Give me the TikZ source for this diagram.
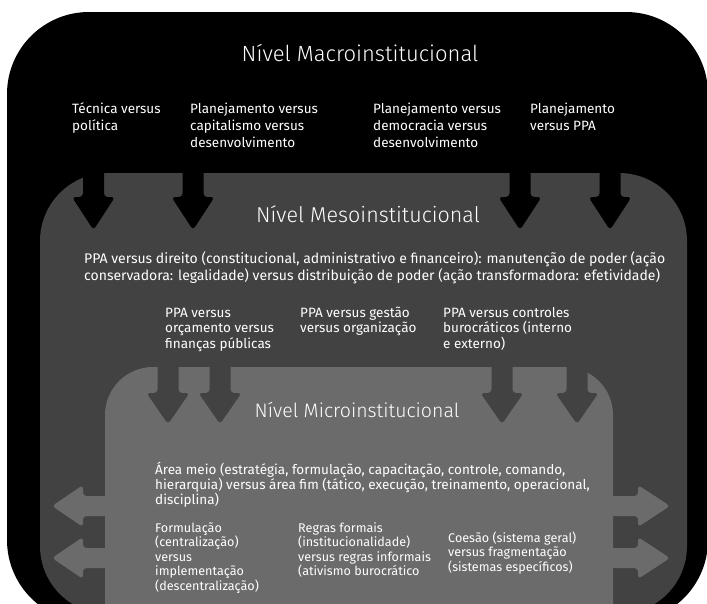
\documentclass[tikz,border=0pt]{standalone}
\usepackage{fontspec}
\setmainfont{Fira Sans}
\IfFontExistsTF{Fira Sans Light}{\newfontfamily\titlefont{Fira Sans Light}}{\newfontfamily\titlefont{Fira Sans}}
\definecolor{meso}{RGB}{66,66,66}
\definecolor{micro}{RGB}{107,107,107}
\newcommand\dnarrow[5]{\fill[#5, rounded corners=3.5pt] (#1-10.5,#2) -- (#1-10.5,#3) -- (#1-21.5,#3) -- (#1,#4) -- (#1+21.5,#3) -- (#1+10.5,#3) -- (#1+10.5,#2) -- cycle;}
\newcommand\sdarrow[5]{\fill[#5, rounded corners=3.5pt] (#2,#1-10) -- (#3,#1-10) -- (#3,#1-21) -- (#4,#1) -- (#3,#1+21) -- (#3,#1+10) -- (#2,#1+10) -- cycle;}
\begin{document}
\begin{tikzpicture}[x=1pt,y=-1pt,
  toplbl/.style={text=white, font=\fontsize{13.5}{17}\selectfont, align=left, anchor=base west, inner sep=0pt},
  meslbl/.style={text=white, font=\fontsize{14}{17}\selectfont, align=left, anchor=base west, inner sep=0pt},
  sublbl/.style={text=white, font=\fontsize{13.5}{15.5}\selectfont, align=left, anchor=base west, inner sep=0pt},
  miclbl/.style={text=white, font=\fontsize{13.5}{15}\selectfont, align=left, anchor=base west, inner sep=0pt},
  botlbl/.style={text=white, font=\fontsize{12.6}{14.5}\selectfont, align=left, anchor=base west, inner sep=0pt},
  ttl/.style={text=white, font=\titlefont\fontsize{22}{26}\selectfont, anchor=base, inner sep=0pt}]
\useasboundingbox (0,0) rectangle (707,603);
\clip (0,0) rectangle (707,603);
\fill[white] (0,0) rectangle (707,603);
% macro level
\fill[black, rounded corners=82pt] (7,12) rectangle (708,622);
% meso level
\fill[meso, rounded corners=68pt] (40,173) rectangle (687,614);
\dnarrow{93.5}{150}{197}{230}{black}
\dnarrow{193}{150}{197}{230}{black}
\dnarrow{520}{150}{197}{230}{black}
\dnarrow{610}{150}{197}{230}{black}
% micro level
\fill[micro, rounded corners=48pt] (105,367) rectangle (613,660);
\dnarrow{168}{345}{393}{424}{meso}
\dnarrow{220}{345}{393}{424}{meso}
\dnarrow{502}{345}{393}{424}{meso}
\dnarrow{577}{345}{393}{424}{meso}
\sdarrow{506}{120}{83}{52}{micro}
\sdarrow{558}{120}{83}{52}{micro}
\sdarrow{506}{600}{638}{670}{micro}
\sdarrow{558}{600}{638}{670}{micro}
% texts (anchor = baseline of the last line)
\node[ttl] (macro) at (360,61) {Nível Macroinstitucional};
\node[toplbl] (t1) at (72,130) {Técnica versus\\política};
\node[toplbl] (t2) at (190,147) {Planejamento versus\\capitalismo versus\\desenvolvimento};
\node[toplbl] (t3) at (373,147) {Planejamento versus\\democracia versus\\desenvolvimento};
\node[toplbl] (t4) at (530,130) {Planejamento\\versus PPA};
\node[ttl, font=\titlefont\fontsize{21.5}{26}\selectfont] (meso) at (368,222) {Nível Mesoinstitucional};
\node[meslbl] (m0) at (84,280) {PPA versus direito (constitucional, administrativo e financeiro): manutenção de poder (ação\\conservadora: legalidade) versus distribuição de poder (ação transformadora: efetividade)};
\node[sublbl] (m1) at (165,348) {PPA versus\\orçamento versus\\finanças públicas};
\node[sublbl] (m2) at (300,332.5) {PPA versus gestão\\versus organização};
\node[sublbl] (m3) at (443,348) {PPA versus controles\\burocráticos (interno\\e externo)};
\node[ttl, font=\titlefont\fontsize{19.5}{24}\selectfont] (micro) at (357,417) {Nível Microinstitucional};
\node[miclbl] (u0) at (155,504) {Área meio (estratégia, formulação, capacitação, controle, comando,\\hierarquia) versus área fim (tático, execução, treinamento, operacional,\\disciplina)};
\node[botlbl] (u1) at (155,590) {Formulação\\(centralização)\\versus\\implementação\\(descentralização)};
\node[botlbl] (u2) at (298,575.5) {Regras formais\\(institucionalidade)\\versus regras informais\\(ativismo burocrático};
\node[botlbl] (u3) at (448,571) {Coesão (sistema geral)\\versus fragmentação\\(sistemas específicos)};
\end{tikzpicture}
\end{document}
